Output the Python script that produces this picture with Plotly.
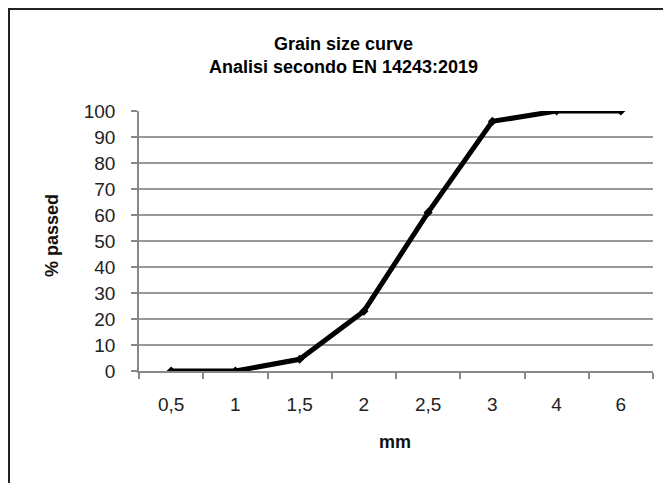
import plotly.graph_objects as go

# Data
sizes_mm = ["0,5", "1", "1,5", "2", "2,5", "3", "4", "6"]
passed_pct = [0, 0, 4.5, 23, 61, 96, 100, 100]
y_ticks = [0, 10, 20, 30, 40, 50, 60, 70, 80, 90, 100]

title_line1 = "Grain size curve"
title_line2 = "Analisi secondo EN 14243:2019"
x_title = "mm"
y_title = "% passed"

FONT = "Liberation Sans, Arial, sans-serif"

# page has an 8px body margin; figure coords = page coords - 8
W, H = 663, 475
L, R, T, B = 131, 18, 103, 112
pw = W - L - R
ph = H - T - B


def px(xp):
    return (xp - L) / pw


def py(yp):
    return (H - B - yp) / ph


fig = go.Figure()
fig.add_trace(go.Scatter(
    x=sizes_mm, y=passed_pct, mode="lines+markers",
    line=dict(color="#000000", width=5),
    marker=dict(color="#000000", size=7, symbol="diamond"),
    showlegend=False, hoverinfo="x+y",
))

fig.update_layout(
    width=W, height=H,
    margin=dict(l=L, r=R, t=T, b=B, pad=0),
    paper_bgcolor="white", plot_bgcolor="white",
    font=dict(family=FONT, color="#222222"),
    xaxis=dict(
        type="category",
        tickson="boundaries",
        ticks="outside", ticklen=6, tickwidth=1.5, tickcolor="#888888",
        showline=True, linecolor="#888888", linewidth=1.5,
        showgrid=False,
        tickfont=dict(size=19, color="#222222"),
        ticklabelstandoff=15,
        range=[-0.5, len(sizes_mm) - 0.5],
        fixedrange=True,
    ),
    yaxis=dict(
        range=[0, 100],
        tickvals=y_ticks,
        ticks="outside", ticklen=6, tickwidth=1.5, tickcolor="#888888",
        showline=True, linecolor="#888888", linewidth=1.5,
        showgrid=True, gridcolor="#999999", gridwidth=2,
        zeroline=False,
        tickfont=dict(size=19, color="#222222"),
        ticklabelstandoff=12,
        fixedrange=True,
    ),
    annotations=[
        dict(text="<b>" + title_line1 + "<br>" + title_line2 + "</b>",
             xref="paper", yref="paper",
             x=px(335), y=py(47), xanchor="center", yanchor="middle",
             showarrow=False, font=dict(size=18, color="#000000", family=FONT)),
        dict(text="<b>" + x_title + "</b>", xref="paper", yref="paper",
             x=px(387), y=py(434), xanchor="center", yanchor="middle",
             showarrow=False, font=dict(size=18, color="#111111", family=FONT)),
        dict(text="<b>" + y_title + "</b>", xref="paper", yref="paper",
             x=px(44), y=py(228), xanchor="center", yanchor="middle", textangle=-90,
             showarrow=False, font=dict(size=18, color="#111111", family=FONT)),
    ],
    shapes=[
        dict(type="line", xref="paper", yref="paper",
             x0=px(1), x1=px(1), y0=py(0), y1=py(H + 10),
             line=dict(color="#222222", width=2)),
        dict(type="line", xref="paper", yref="paper",
             x0=px(0), x1=px(W + 10), y0=py(1), y1=py(1),
             line=dict(color="#222222", width=2)),
    ],
)

fig.write_html("out.html")
